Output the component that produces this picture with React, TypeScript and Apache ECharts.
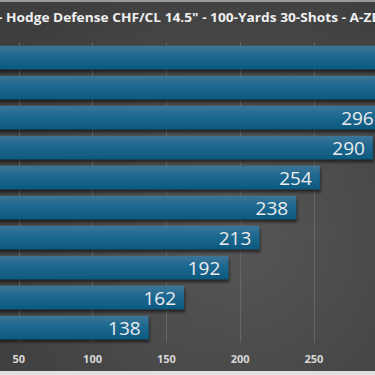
import React, { useEffect, useRef } from "react";
import * as echarts from "echarts";

const titleText = '- Hodge Defense CHF/CL 14.5" - 100-Yards 30-Shots - A-ZERO';
const categories = ["Load 1", "Load 2", "Load 3", "Load 4", "Load 5", "Load 6", "Load 7", "Load 8", "Load 9", "Load 10"];
const values = [345, 331, 296, 290, 254, 238, 213, 192, 162, 138];
const tickValues = [0, 50, 100, 150, 200, 250, 300, 350];
const visibleTicks = [50, 100, 150, 200, 250];

const OFFSET = 58; // chart canvas starts left of the visible frame
const INNER_W = 600;
const PX_PER_UNIT = 1.484;

export default function App() {
  const ref = useRef<HTMLDivElement>(null);
  useEffect(() => {
    if (!ref.current) return;
    const chart = echarts.init(ref.current, null, { renderer: "svg" });
    const gridW = (tickValues[tickValues.length - 1] - tickValues[0]) * PX_PER_UNIT;
    chart.setOption({
      animation: false,
      backgroundColor: "transparent",
      graphic: [
        {
          type: "text",
          x: OFFSET - 2,
          y: 11,
          scaleX: 1.055,
          style: {
            text: titleText,
            fill: "#f0f0f0",
            font: "bold 13px 'Open Sans'",
          },
        },
      ],
      grid: { left: 0, right: INNER_W - gridW, top: 42.5, bottom: 375 - 342.5, containLabel: false },
      xAxis: {
        type: "value",
        min: tickValues[0],
        max: tickValues[tickValues.length - 1],
        interval: 50,
        axisLine: { show: false },
        axisTick: { show: false },
        splitLine: { lineStyle: { color: "#666666", width: 1 } },
        axisLabel: {
          color: "#d8d8d8",
          fontSize: 11,
          fontFamily: "Open Sans",
          fontWeight: "bold",
          margin: 10,
          formatter: (v: number) => (visibleTicks.indexOf(v) >= 0 ? String(v) : ""),
        },
      },
      yAxis: {
        type: "category",
        inverse: true,
        data: categories,
        axisLine: { show: false },
        axisTick: { show: false },
        axisLabel: { show: false },
      },
      series: [
        {
          type: "bar",
          data: values,
          barCategoryGap: "22%",
          itemStyle: {
            color: {
              type: "linear",
              x: 0,
              y: 0,
              x2: 0,
              y2: 1,
              colorStops: [
                { offset: 0, color: "#3f7597" },
                { offset: 0.45, color: "#1c6890" },
                { offset: 1, color: "#0d5980" },
              ],
            },
            shadowColor: "rgba(0,0,0,0.55)",
            shadowBlur: 3,
            shadowOffsetX: 1,
            shadowOffsetY: 3,
          },
          label: {
            show: true,
            position: "insideRight",
            distance: 8,
            color: "#ececec",
            fontSize: 19,
            fontFamily: "Open Sans",
          },
        },
      ],
    });
    return () => chart.dispose();
  }, []);
  return (
    <div
      style={{
        width: 375,
        height: 375,
        position: "absolute",
        left: 0,
        top: 0,
        overflow: "hidden",
        background: "radial-gradient(ellipse at 62% 62%, #575757 0%, #3e3e3e 85%)",
      }}
    >
      <div style={{ position: "absolute", left: 0, right: 0, top: 0, height: 1.5, background: "#9a9a9a" }} />
      <div style={{ position: "absolute", left: 0, right: 0, bottom: 0, height: 4, background: "#e0e0e0" }} />
      <div ref={ref} style={{ width: INNER_W, height: 375, position: "absolute", left: -OFFSET, top: 0 }} />
    </div>
  );
}
